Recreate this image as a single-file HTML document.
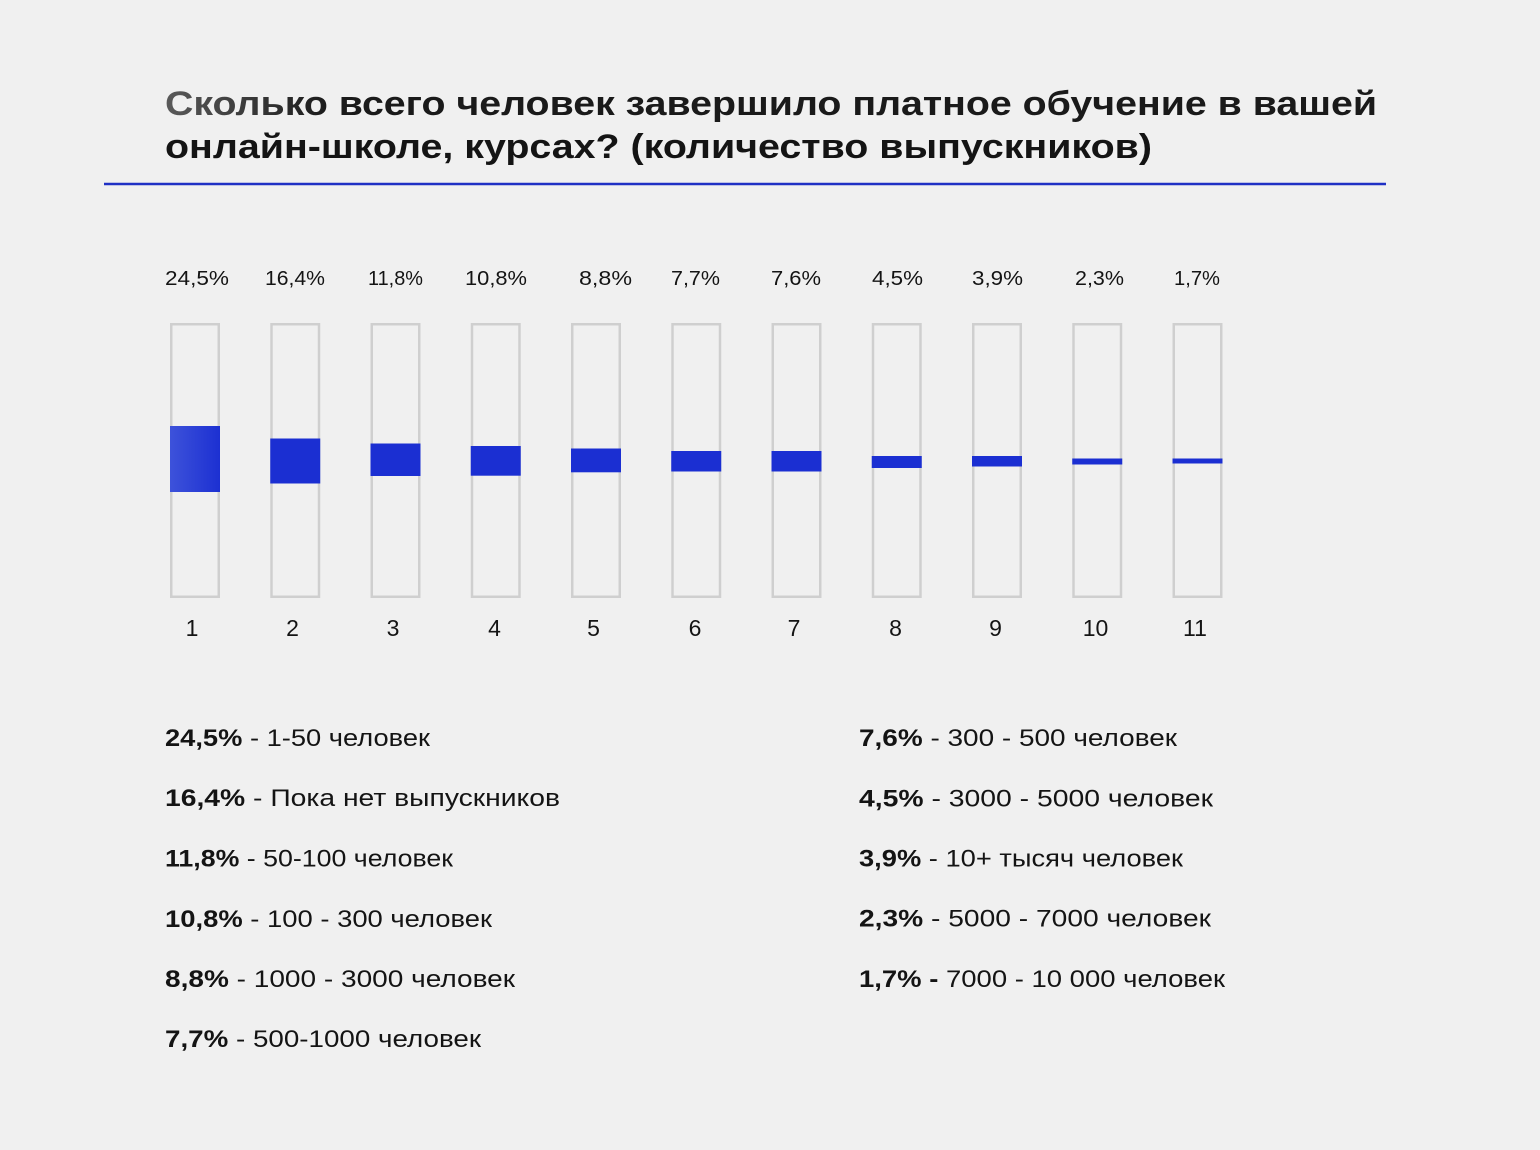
<!DOCTYPE html>
<html>
<head>
<meta charset="utf-8">
<style>
html,body{margin:0;padding:0;background:#f0f0f0;}
svg{display:block;}
text{font-family:"Liberation Sans","DejaVu Sans",sans-serif;fill:#141414;}
.t{font-weight:bold;font-size:34px;}
.p{font-size:20px;}
.n{font-size:23px;}
.l{font-size:24px;}
.b{font-weight:bold;}
</style>
</head>
<body>
<svg width="1540" height="1150" viewBox="0 0 1540 1150" xmlns="http://www.w3.org/2000/svg">
<defs>
<linearGradient id="g1" x1="0" y1="0" x2="1" y2="0">
<stop offset="0" stop-color="#3d52da"/>
<stop offset="1" stop-color="#1c30d2"/>
</linearGradient>
<linearGradient id="tg" x1="165" y1="0" x2="330" y2="0" gradientUnits="userSpaceOnUse">
<stop offset="0" stop-color="#5a5a5a"/>
<stop offset="1" stop-color="#1a1a1a"/>
</linearGradient>
</defs>
<rect width="1540" height="1150" fill="#f0f0f0"/>

<text class="t" x="165" y="115" textLength="1212" lengthAdjust="spacingAndGlyphs" style="fill:url(#tg)">Сколько всего человек завершило платное обучение в вашей</text>
<text class="t" x="165" y="158" textLength="987" lengthAdjust="spacingAndGlyphs">онлайн-школе, курсах? (количество выпускников)</text>
<line x1="104" y1="184" x2="1386" y2="184" stroke="#1f30c4" stroke-width="2.5"/>

<!-- percent labels -->
<text class="p" x="165" y="285" textLength="64" lengthAdjust="spacingAndGlyphs">24,5%</text>
<text class="p" x="265" y="285" textLength="60" lengthAdjust="spacingAndGlyphs">16,4%</text>
<text class="p" x="368" y="285" textLength="55" lengthAdjust="spacingAndGlyphs">11,8%</text>
<text class="p" x="465" y="285" textLength="62" lengthAdjust="spacingAndGlyphs">10,8%</text>
<text class="p" x="579" y="285" textLength="53" lengthAdjust="spacingAndGlyphs">8,8%</text>
<text class="p" x="671" y="285" textLength="49" lengthAdjust="spacingAndGlyphs">7,7%</text>
<text class="p" x="771" y="285" textLength="50" lengthAdjust="spacingAndGlyphs">7,6%</text>
<text class="p" x="872" y="285" textLength="51" lengthAdjust="spacingAndGlyphs">4,5%</text>
<text class="p" x="972" y="285" textLength="51" lengthAdjust="spacingAndGlyphs">3,9%</text>
<text class="p" x="1075" y="285" textLength="49" lengthAdjust="spacingAndGlyphs">2,3%</text>
<text class="p" x="1174" y="285" textLength="46" lengthAdjust="spacingAndGlyphs">1,7%</text>

<!-- boxes -->
<g fill="none" stroke="#cfcfcf" stroke-width="2.5">
<rect x="171.25" y="324.25" width="47.5" height="272.5"/>
<rect x="271.5" y="324.25" width="47.5" height="272.5"/>
<rect x="371.75" y="324.25" width="47.5" height="272.5"/>
<rect x="472" y="324.25" width="47.5" height="272.5"/>
<rect x="572.25" y="324.25" width="47.5" height="272.5"/>
<rect x="672.5" y="324.25" width="47.5" height="272.5"/>
<rect x="772.75" y="324.25" width="47.5" height="272.5"/>
<rect x="873" y="324.25" width="47.5" height="272.5"/>
<rect x="973.25" y="324.25" width="47.5" height="272.5"/>
<rect x="1073.5" y="324.25" width="47.5" height="272.5"/>
<rect x="1173.75" y="324.25" width="47.5" height="272.5"/>
</g>

<!-- fills -->
<rect x="170" y="426" width="50" height="66" fill="url(#g1)"/>
<g fill="#1b2fd2">
<rect x="270.25" y="438.5" width="50" height="45"/>
<rect x="370.5" y="443.5" width="50" height="32.5"/>
<rect x="470.75" y="446" width="50" height="29.7"/>
<rect x="571" y="448.5" width="50" height="23.8"/>
<rect x="671.25" y="451" width="50" height="20.5"/>
<rect x="771.5" y="451" width="50" height="20.5"/>
<rect x="871.75" y="456" width="50" height="12"/>
<rect x="972" y="456" width="50" height="10.5"/>
<rect x="1072.25" y="458.5" width="50" height="6"/>
<rect x="1172.5" y="458.5" width="50" height="5"/>
</g>

<!-- numbers -->
<g text-anchor="middle">
<text class="n" x="192" y="636">1</text>
<text class="n" x="292.5" y="636">2</text>
<text class="n" x="393" y="636">3</text>
<text class="n" x="494.5" y="636">4</text>
<text class="n" x="593.5" y="636">5</text>
<text class="n" x="695" y="636">6</text>
<text class="n" x="794" y="636">7</text>
<text class="n" x="895.5" y="636">8</text>
<text class="n" x="995.5" y="636">9</text>
<text class="n" x="1095.5" y="636">10</text>
<text class="n" x="1195" y="636">11</text>
</g>

<!-- legend left -->
<text class="l" x="165" y="746" textLength="265" lengthAdjust="spacingAndGlyphs"><tspan class="b">24,5%</tspan> - 1-50 человек</text>
<text class="l" x="165" y="806" textLength="395" lengthAdjust="spacingAndGlyphs"><tspan class="b">16,4%</tspan> - Пока нет выпускников</text>
<text class="l" x="165" y="866.5" textLength="288" lengthAdjust="spacingAndGlyphs"><tspan class="b">11,8%</tspan> - 50-100 человек</text>
<text class="l" x="165" y="927" textLength="327" lengthAdjust="spacingAndGlyphs"><tspan class="b">10,8%</tspan> - 100 - 300 человек</text>
<text class="l" x="165" y="987" textLength="350" lengthAdjust="spacingAndGlyphs"><tspan class="b">8,8%</tspan> - 1000 - 3000 человек</text>
<text class="l" x="165" y="1047" textLength="316" lengthAdjust="spacingAndGlyphs"><tspan class="b">7,7%</tspan> - 500-1000 человек</text>

<!-- legend right -->
<text class="l" x="859" y="746" textLength="318" lengthAdjust="spacingAndGlyphs"><tspan class="b">7,6%</tspan> - 300 - 500 человек</text>
<text class="l" x="859" y="806.5" textLength="354" lengthAdjust="spacingAndGlyphs"><tspan class="b">4,5%</tspan> - 3000 - 5000 человек</text>
<text class="l" x="859" y="866.5" textLength="324" lengthAdjust="spacingAndGlyphs"><tspan class="b">3,9%</tspan> - 10+ тысяч человек</text>
<text class="l" x="859" y="926.5" textLength="352" lengthAdjust="spacingAndGlyphs"><tspan class="b">2,3%</tspan> - 5000 - 7000 человек</text>
<text class="l" x="859" y="987" textLength="366" lengthAdjust="spacingAndGlyphs"><tspan class="b">1,7% -</tspan> 7000 - 10 000 человек</text>
</svg>
</body>
</html>
